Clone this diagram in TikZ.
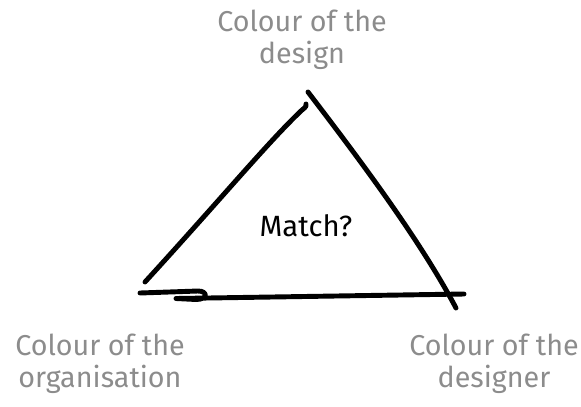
\documentclass[tikz,border=0pt]{standalone}
\usepackage{fontspec}
\setmainfont{Fira Sans}
\usepackage{tikz}
\usetikzlibrary{positioning}
\definecolor{labelgrey}{HTML}{8C8C8C}

\begin{document}
\begin{tikzpicture}[x=0.03cm, y=-0.03cm,
  lbl/.style={align=center, text=labelgrey, inner sep=0pt,
              font=\fontsize{24.5}{27.5}\selectfont},
  side/.style={line width=4.2pt, line cap=round, line join=round}]
\useasboundingbox (0,0) rectangle (581,406);
\node[lbl] (design) at (302,40) {Colour of the\\ design};
\node[lbl] (organisation) at (100,364) {Colour of the\\ organisation};
\node[lbl] (designer) at (494,364) {Colour of the\\ designer};
\node[font=\fontsize{25}{28}\selectfont, inner sep=0pt] (match) at (306,226) {Match?};
\coordinate (lb) at (145,282);
\coordinate (lt) at (306,104);
\coordinate (rt) at (308,92);
\coordinate (rb) at (456,308);
\coordinate (bl) at (140,293);
\coordinate (br) at (464,294);
\draw[side] (lb) .. controls (220,200) and (270,140) .. (302,110)
  .. controls (306,107) and (307,105) .. (lt);
\draw[side] (rt) .. controls (360,160) and (420,240) .. (rb);
\draw[side] (bl) -- (198,291) .. controls (208,291) and (208,299.5) .. (196,299.5)
  -- (176,298.5) -- (br);
\end{tikzpicture}
\end{document}
